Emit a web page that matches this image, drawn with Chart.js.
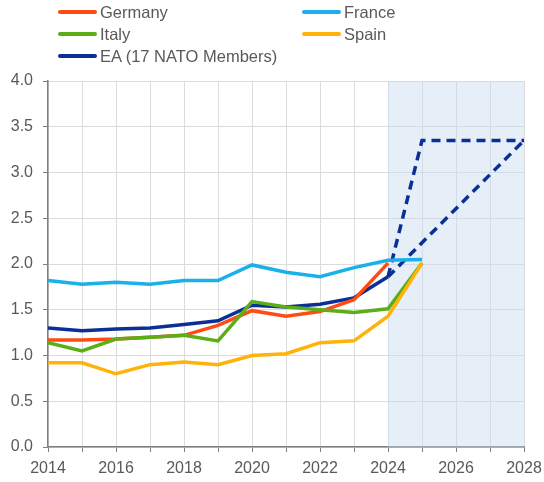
<!DOCTYPE html>
<html>
<head>
<meta charset="utf-8">
<script src="https://cdn.jsdelivr.net/npm/chart.js@4"></script>
<style>
  html, body { margin: 0; padding: 0; background: #fff; }
  #wrap { position: relative; width: 544px; height: 482px; }
  #legend { position: absolute; left: 0; top: 0; width: 544px; font-family: "Liberation Sans", Arial, sans-serif; font-size: 16.5px; color: #595959; }
  .item { position: absolute; display: flex; align-items: center; height: 20px; }
  .swatch { width: 39px; height: 4px; border-radius: 2px; margin-right: 3px; }
</style>
</head>
<body>
<div id="wrap">
  <canvas id="chart" width="544" height="482"></canvas>
  <div id="legend"></div>
</div>
<script>
const years = [2014, 2015, 2016, 2017, 2018, 2019, 2020, 2021, 2022, 2023, 2024, 2025];
const germany = [1.17, 1.17, 1.18, 1.20, 1.22, 1.33, 1.49, 1.43, 1.48, 1.61, 2.01];
const france = [1.82, 1.78, 1.80, 1.78, 1.82, 1.82, 1.99, 1.91, 1.86, 1.96, 2.04, 2.05];
const italy = [1.14, 1.05, 1.18, 1.20, 1.22, 1.16, 1.59, 1.53, 1.50, 1.47, 1.51, 2.01];
const spain = [0.92, 0.92, 0.80, 0.90, 0.93, 0.90, 1.00, 1.02, 1.14, 1.16, 1.43, 2.01];
const ea = [1.30, 1.27, 1.29, 1.30, 1.34, 1.38, 1.55, 1.53, 1.56, 1.63, 1.86];
const targetYears = [2024, 2025, 2028];
const targetFast = [1.86, 3.35, 3.35];
const targetSlowYears = [2024, 2028];
const targetSlow = [1.86, 3.35];
const shadeFrom = 2024, shadeTo = 2028;

const toPts = (xs, ys) => ys.map((v, i) => ({ x: xs[i], y: v }));

const colors = {
  germany: '#ff4c14', france: '#18b1ea', italy: '#5cae16', spain: '#ffb20a', ea: '#0a2f96'
};

const legendItems = [
  ['Germany', colors.germany, 58, 2], ['France', colors.france, 302, 2],
  ['Italy', colors.italy, 58, 24], ['Spain', colors.spain, 302, 24],
  ['EA (17 NATO Members)', colors.ea, 58, 46]
];
const legend = document.getElementById('legend');
legendItems.forEach(([name, c, x, y]) => {
  const d = document.createElement('div');
  d.className = 'item';
  d.style.left = x + 'px';
  d.style.top = y + 'px';
  d.innerHTML = '<span class="swatch" style="background:' + c + '"></span><span>' + name + '</span>';
  legend.appendChild(d);
});

const shade = {
  id: 'shade',
  beforeDatasetsDraw(chart) {
    const { ctx, chartArea, scales } = chart;
    const x0 = scales.x.getPixelForValue(shadeFrom);
    const x1 = scales.x.getPixelForValue(shadeTo);
    ctx.save();
    ctx.fillStyle = 'rgba(200, 218, 240, 0.45)';
    ctx.fillRect(x0, chartArea.top, x1 - x0, chartArea.bottom - chartArea.top);
    ctx.restore();
  }
};

const line = (data, color, extra) => Object.assign({
  data, borderColor: color, borderWidth: 3.5, pointRadius: 0, fill: false, tension: 0
}, extra || {});

new Chart(document.getElementById('chart'), {
  type: 'line',
  data: {
    datasets: [
      line(toPts(years, spain), colors.spain),
      line(toPts(years, italy), colors.italy),
      line(toPts(years, germany), colors.germany),
      line(toPts(years, france), colors.france),
      line(toPts(years, ea), colors.ea),
      line(toPts(targetYears, targetFast), colors.ea, { borderDash: [9, 6] }),
      line(toPts(targetSlowYears, targetSlow), colors.ea, { borderDash: [9, 6] })
    ]
  },
  options: {
    responsive: false,
    animation: false,
    layout: { padding: { top: 81, right: 20, left: 0, bottom: 0 } },
    plugins: { legend: { display: false }, tooltip: { enabled: false } },
    scales: {
      x: {
        type: 'linear', min: 2014, max: 2028,
        afterFit: s => { s.height = 35; s.paddingRight = 0; s.paddingLeft = 0; },
        border: { color: '#7f7f7f', width: 1.5 },
        grid: { color: '#dcdcdc', tickLength: 5, tickColor: '#7f7f7f' },
        ticks: {
          stepSize: 1, autoSkip: false, maxRotation: 0, color: '#595959',
          font: { family: 'Liberation Sans', size: 16 }, padding: 7,
          callback: v => (v % 2 === 0 ? String(v) : '')
        }
      },
      y: {
        min: 0, max: 4,
        afterFit: s => { s.width = 48; s.paddingTop = 0; s.paddingBottom = 0; },
        border: { color: '#7f7f7f', width: 1.5 },
        grid: { color: '#dcdcdc', tickLength: 5, tickColor: '#7f7f7f' },
        ticks: {
          stepSize: 0.5, color: '#595959', padding: 10,
          font: { family: 'Liberation Sans', size: 16 },
          callback: v => v.toFixed(1)
        }
      }
    }
  },
  plugins: [shade]
});
</script>
</body>
</html>
